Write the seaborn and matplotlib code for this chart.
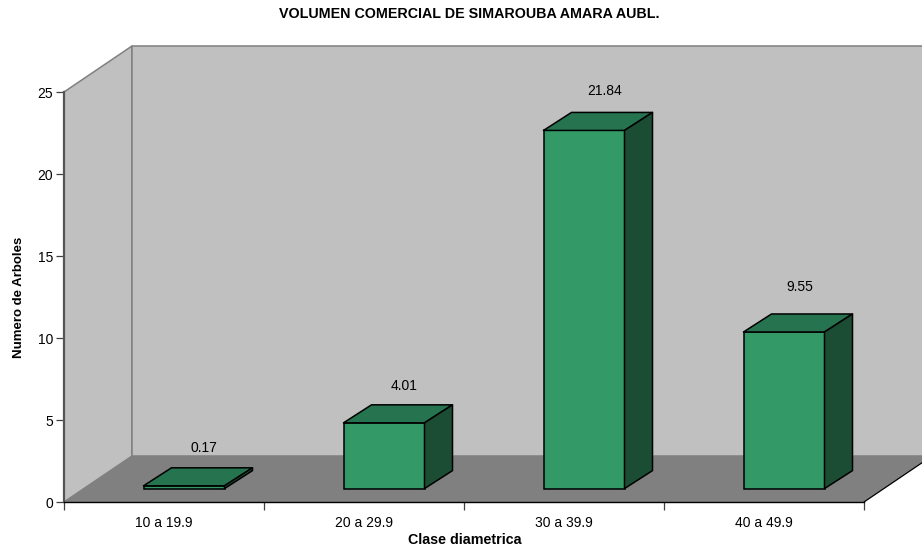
import matplotlib
matplotlib.use("Agg")
import matplotlib.pyplot as plt
from matplotlib.patches import Polygon
from matplotlib.transforms import Affine2D, IdentityTransform
import pandas as pd
import seaborn as sns

classes = ["10 a 19.9", "20 a 29.9", "30 a 39.9", "40 a 49.9"]
volumes = [0.17, 4.01, 21.84, 9.55]
y_ticks = [0, 5, 10, 15, 20, 25]

W, H, DPI = 922, 552, 100
LEFT, RIGHT, TOP, BOTTOM = 64, 864, 92, 502   # front plane in pixels from the top-left
ROOM_DX, ROOM_DY = 68, 46     # depth of the box
BAR_DX, BAR_DY = 28, 18       # depth of each column
INSET_DX, INSET_DY = 20, 13.4   # columns stand in the middle of the floor

WALL, FLOOR, EDGE = "#C0C0C0", "#808080", "#808080"
FRONT, ROOF, SIDE = "#339966", "#267350", "#1A4D33"

sns.set_theme(style="white")
plt.rcParams["font.family"] = ["Liberation Sans", "DejaVu Sans"]

fig = plt.figure(figsize=(W / DPI, H / DPI), dpi=DPI, facecolor="white")
ax = fig.add_axes([LEFT / W, 1 - BOTTOM / H, (RIGHT - LEFT) / W, (BOTTOM - TOP) / H])
ax.patch.set_visible(False)

df = pd.DataFrame({"clase": classes, "volumen": volumes})
sns.barplot(data=df, x="clase", y="volumen", color=FRONT, saturation=1, width=0.405,
            edgecolor="black", linewidth=1.1, ax=ax, zorder=5)
ax.set_xlim(-0.5, len(classes) - 0.5)
ax.set_ylim(0, 25)


def px(x, y):
    """Pixel position from the top-left corner into display coordinates."""
    return (x, H - y)


def add_face(points, **kw):
    fig.add_artist(Polygon([px(*p) for p in points], closed=True,
                           transform=IdentityTransform(), **kw))


# Room: left wall, back wall and floor
wall_kw = dict(facecolor=WALL, edgecolor=EDGE, linewidth=1.1, zorder=-3)
add_face([(LEFT, TOP), (LEFT + ROOM_DX, TOP - ROOM_DY),
          (LEFT + ROOM_DX, BOTTOM - ROOM_DY), (LEFT, BOTTOM)], **wall_kw)
add_face([(LEFT + ROOM_DX, TOP - ROOM_DY), (RIGHT + ROOM_DX, TOP - ROOM_DY),
          (RIGHT + ROOM_DX, BOTTOM - ROOM_DY), (LEFT + ROOM_DX, BOTTOM - ROOM_DY)], **wall_kw)
add_face([(LEFT, BOTTOM), (LEFT + ROOM_DX, BOTTOM - ROOM_DY),
          (RIGHT + ROOM_DX, BOTTOM - ROOM_DY), (RIGHT, BOTTOM)],
         facecolor=FLOOR, edgecolor="none", zorder=-2)
fig.add_artist(plt.Line2D([RIGHT, RIGHT + ROOM_DX], [H - BOTTOM, H - BOTTOM + ROOM_DY],
                          transform=IdentityTransform(), color="black", linewidth=0.9, zorder=-1))

# Move each column onto the floor and add its top and side faces
inset = Affine2D().translate(INSET_DX, INSET_DY)
label_nudge = [(0, 0), (0, 1), (1, -1), (-4, -7)]
for bar, value, (nudge_x, nudge_y) in zip(ax.patches, volumes, label_nudge):
    bar.set_transform(ax.transData + inset)
    bar.set_clip_on(False)
    x0, y0 = (ax.transData + inset).transform((bar.get_x(), bar.get_y()))
    x1, y1 = (ax.transData + inset).transform((bar.get_x() + bar.get_width(), bar.get_height()))
    face_kw = dict(edgecolor="black", linewidth=1.1, joinstyle="round", zorder=6)
    roof = [(x0, y1), (x0 + BAR_DX, y1 + BAR_DY), (x1 + BAR_DX, y1 + BAR_DY), (x1, y1)]
    side = [(x1, y1), (x1 + BAR_DX, y1 + BAR_DY), (x1 + BAR_DX, y0 + BAR_DY), (x1, y0)]
    fig.add_artist(Polygon(roof, closed=True, transform=IdentityTransform(), facecolor=ROOF, **face_kw))
    fig.add_artist(Polygon(side, closed=True, transform=IdentityTransform(), facecolor=SIDE, **face_kw))
    ax.annotate(f"{value:.2f}", xy=(bar.get_x() + bar.get_width() / 2, value),
                xycoords="data", xytext=((INSET_DX + 20 + nudge_x) * 0.72, (INSET_DY + 38 - nudge_y) * 0.72),
                textcoords="offset points", ha="center", va="center",
                fontsize=10, color="black", annotation_clip=False)

# Axes furniture
for name in ("top", "right"):
    ax.spines[name].set_visible(False)
ax.spines["left"].set_color("#555555")
ax.spines["left"].set_linewidth(1.6)
ax.spines["bottom"].set_color("black")
ax.spines["bottom"].set_linewidth(1.0)

ax.set_yticks(y_ticks)
ax.tick_params(axis="y", left=True, length=5.8, width=0.9, color="#404040", pad=2, labelsize=10, labelcolor="black")
ax.set_xticks([i - 0.5 for i in range(len(classes) + 1)])
ax.set_xticklabels([])
ax.set_xticks(range(len(classes)), classes, minor=True)
ax.tick_params(axis="x", which="major", bottom=True, length=6, width=0.9, color="#404040")
ax.tick_params(axis="x", which="minor", bottom=False, length=0, pad=10, labelsize=10, labelcolor="black")
ax.set_xlabel("")
ax.set_ylabel("")

fig.text(464.5 / W, 1 - 540 / H, "Clase diametrica", ha="center", va="center",
         fontsize=10.3, fontweight="bold", color="black")
fig.text(19 / W, 1 - 297.5 / H, "Numero de Arboles", ha="center", va="center",
         rotation=90, fontsize=9.5, fontweight="bold", color="black")
fig.text(469.5 / W, 1 - 14 / H, "VOLUMEN COMERCIAL DE SIMAROUBA AMARA AUBL.", ha="center", va="center",
         fontsize=10.3, fontweight="bold", color="black")

fig.savefig("out.png", dpi=DPI, facecolor="white")
